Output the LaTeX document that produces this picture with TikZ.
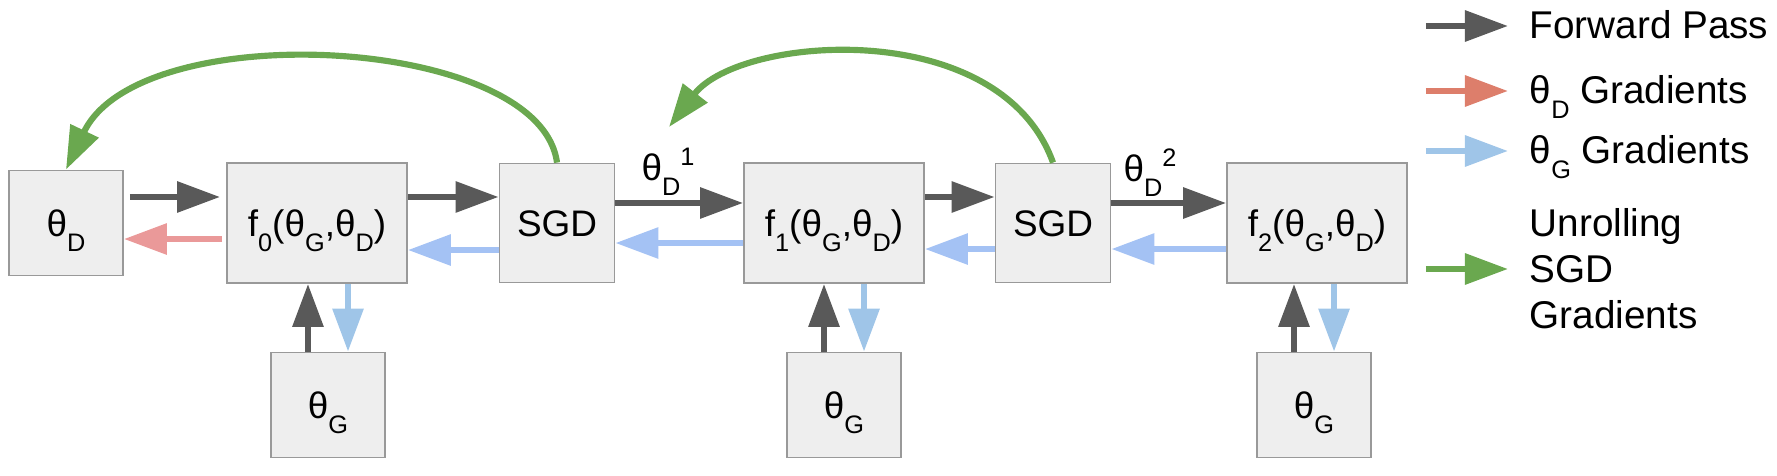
\documentclass[tikz,border=0pt]{standalone}
\usepackage{fontspec}
\setmainfont{Liberation Sans}
\usepackage{tikz}
\usetikzlibrary{arrows.meta}
\definecolor{fwdgray}{HTML}{595959}
\definecolor{gradred}{HTML}{EA9999}
\definecolor{keyred}{HTML}{DD7E6B}
\definecolor{gradblue}{HTML}{A4C2F4}
\definecolor{downblue}{HTML}{9FC5E8}
\definecolor{sgdgreen}{HTML}{6AA84F}
\definecolor{boxfill}{HTML}{EEEEEE}
\definecolor{boxline}{HTML}{999999}
\newcommand{\lo}[1]{\raisebox{-1.5mm}{\fontsize{7.2}{8}\selectfont #1}}
\newcommand{\hi}[1]{\raisebox{1.5mm}{\fontsize{7.2}{8}\selectfont #1}}
\tikzset{
    every node/.style={font=\fontsize{10.5}{12}\selectfont},
    param/.style={
        draw=boxline,
        fill=boxfill,
        line width=0.5pt,
        inner sep=0pt,
        text height=0.27cm,
        text depth=0cm,
        minimum width=1.14cm,
        minimum height=1.05cm
    },
    func/.style={param, minimum width=1.8cm, minimum height=1.2cm},
    sgd/.style={param, minimum width=1.15cm, minimum height=1.19cm},
    key/.style={anchor=west, inner sep=0pt, font=\fontsize{11}{13.1}\selectfont},
    keyline/.style={key, text height=0.24cm, text depth=0cm},
    fwd/.style={draw=fwdgray, line width=1.75pt, -{Triangle[length=4.3mm, width=3mm]}},
    gradD/.style={fwd, draw=gradred},
    gradG/.style={fwd, draw=gradblue},
    gradGv/.style={fwd, draw=downblue},
    unroll/.style={fwd, draw=sgdgreen}
}

\begin{document}
\begin{tikzpicture}[x=0.01cm, y=0.01cm]
    \useasboundingbox (0,0) rectangle (1777,475);

    \node[param] (D) at (66,252) {θ\lo{D}};
    \node[func] (F0) at (317,252) {f\lo{0}(θ\lo{G},θ\lo{D})};
    \node[sgd] (S1) at (557,252) {SGD};
    \node[func] (F1) at (834,252) {f\lo{1}(θ\lo{G},θ\lo{D})};
    \node[sgd] (S2) at (1053,252) {SGD};
    \node[func] (F2) at (1317,252) {f\lo{2}(θ\lo{G},θ\lo{D})};

    \node[param] (G0) at (328,70) {θ\lo{G}};
    \node[param] (G1) at (844,70) {θ\lo{G}};
    \node[param] (G2) at (1314,70) {θ\lo{G}};

    \node (L1) at (668,303) {θ\lo{D}\hi{1}};
    \node (L2) at (1150,302) {θ\lo{D}\hi{2}};

    % step 0
    \draw[fwd, shorten <=0.6mm, shorten >=0.6mm] ([yshift=2.6mm]D.east) -- ([yshift=2.6mm]F0.west);
    \draw[gradD, shorten <=0.4mm] ([yshift=-1.6mm]F0.west) -- ([yshift=-1.6mm]D.east);
    \draw[fwd] ([yshift=2.6mm]F0.east) -- ([yshift=2.6mm]S1.west);
    \draw[gradG] ([yshift=-2.7mm]S1.west) -- ([yshift=-2.7mm]F0.east);
    \draw[fwd] ([xshift=-2mm]G0.north) -- ([xshift=-2mm]G0.north |- F0.south);
    \draw[gradGv] ([xshift=2mm]G0.north |- F0.south) -- ([xshift=2mm]G0.north);

    % step 1
    \draw[fwd] ([yshift=2mm]S1.east) -- ([yshift=2mm]F1.west);
    \draw[gradG] ([yshift=-2mm]F1.west) -- ([yshift=-2mm]S1.east);
    \draw[fwd] ([yshift=2.6mm]F1.east) -- ([yshift=2.6mm]S2.west);
    \draw[gradG] ([yshift=-2.6mm]S2.west) -- ([yshift=-2.6mm]F1.east);
    \draw[fwd] ([xshift=-2mm]G1.north) -- ([xshift=-2mm]G1.north |- F1.south);
    \draw[gradGv] ([xshift=2mm]G1.north |- F1.south) -- ([xshift=2mm]G1.north);

    % step 2
    \draw[fwd] ([yshift=2mm]S2.east) -- ([yshift=2mm]F2.west);
    \draw[gradG] ([yshift=-2.6mm]F2.west) -- ([yshift=-2.6mm]S2.east);
    \draw[fwd] ([xshift=-2mm]G2.north) -- ([xshift=-2mm]G2.north |- F2.south);
    \draw[gradGv] ([xshift=2mm]G2.north |- F2.south) -- ([xshift=2mm]G2.north);

    % unrolled sgd
    \coordinate (T1) at (669,348);
    \draw[unroll] (S1.north) .. controls (540,440) and (140,460) .. (D.north);
    \draw[unroll] (S2.north) .. controls (1000,460) and (740,440) .. (T1);

    % legend
    \node[keyline] (K1) at (1529,449) {Forward Pass};
    \node[keyline] (K2) at (1529,384) {θ\lo{D} Gradients};
    \node[keyline] (K3) at (1529,324) {θ\lo{G} Gradients};
    \node[key, align=left] (K4) at (1529,206) {Unrolling\\SGD\\Gradients};
    \draw[fwd] ([xshift=-10.3mm]K1.west) -- ([xshift=-2.1mm]K1.west);
    \draw[gradD, draw=keyred] ([xshift=-10.3mm]K2.west) -- ([xshift=-2.1mm]K2.west);
    \draw[gradGv] ([xshift=-10.3mm]K3.west) -- ([xshift=-2.1mm]K3.west);
    \draw[unroll] ([xshift=-10.3mm]K4.west) -- ([xshift=-2.1mm]K4.west);
\end{tikzpicture}
\end{document}
